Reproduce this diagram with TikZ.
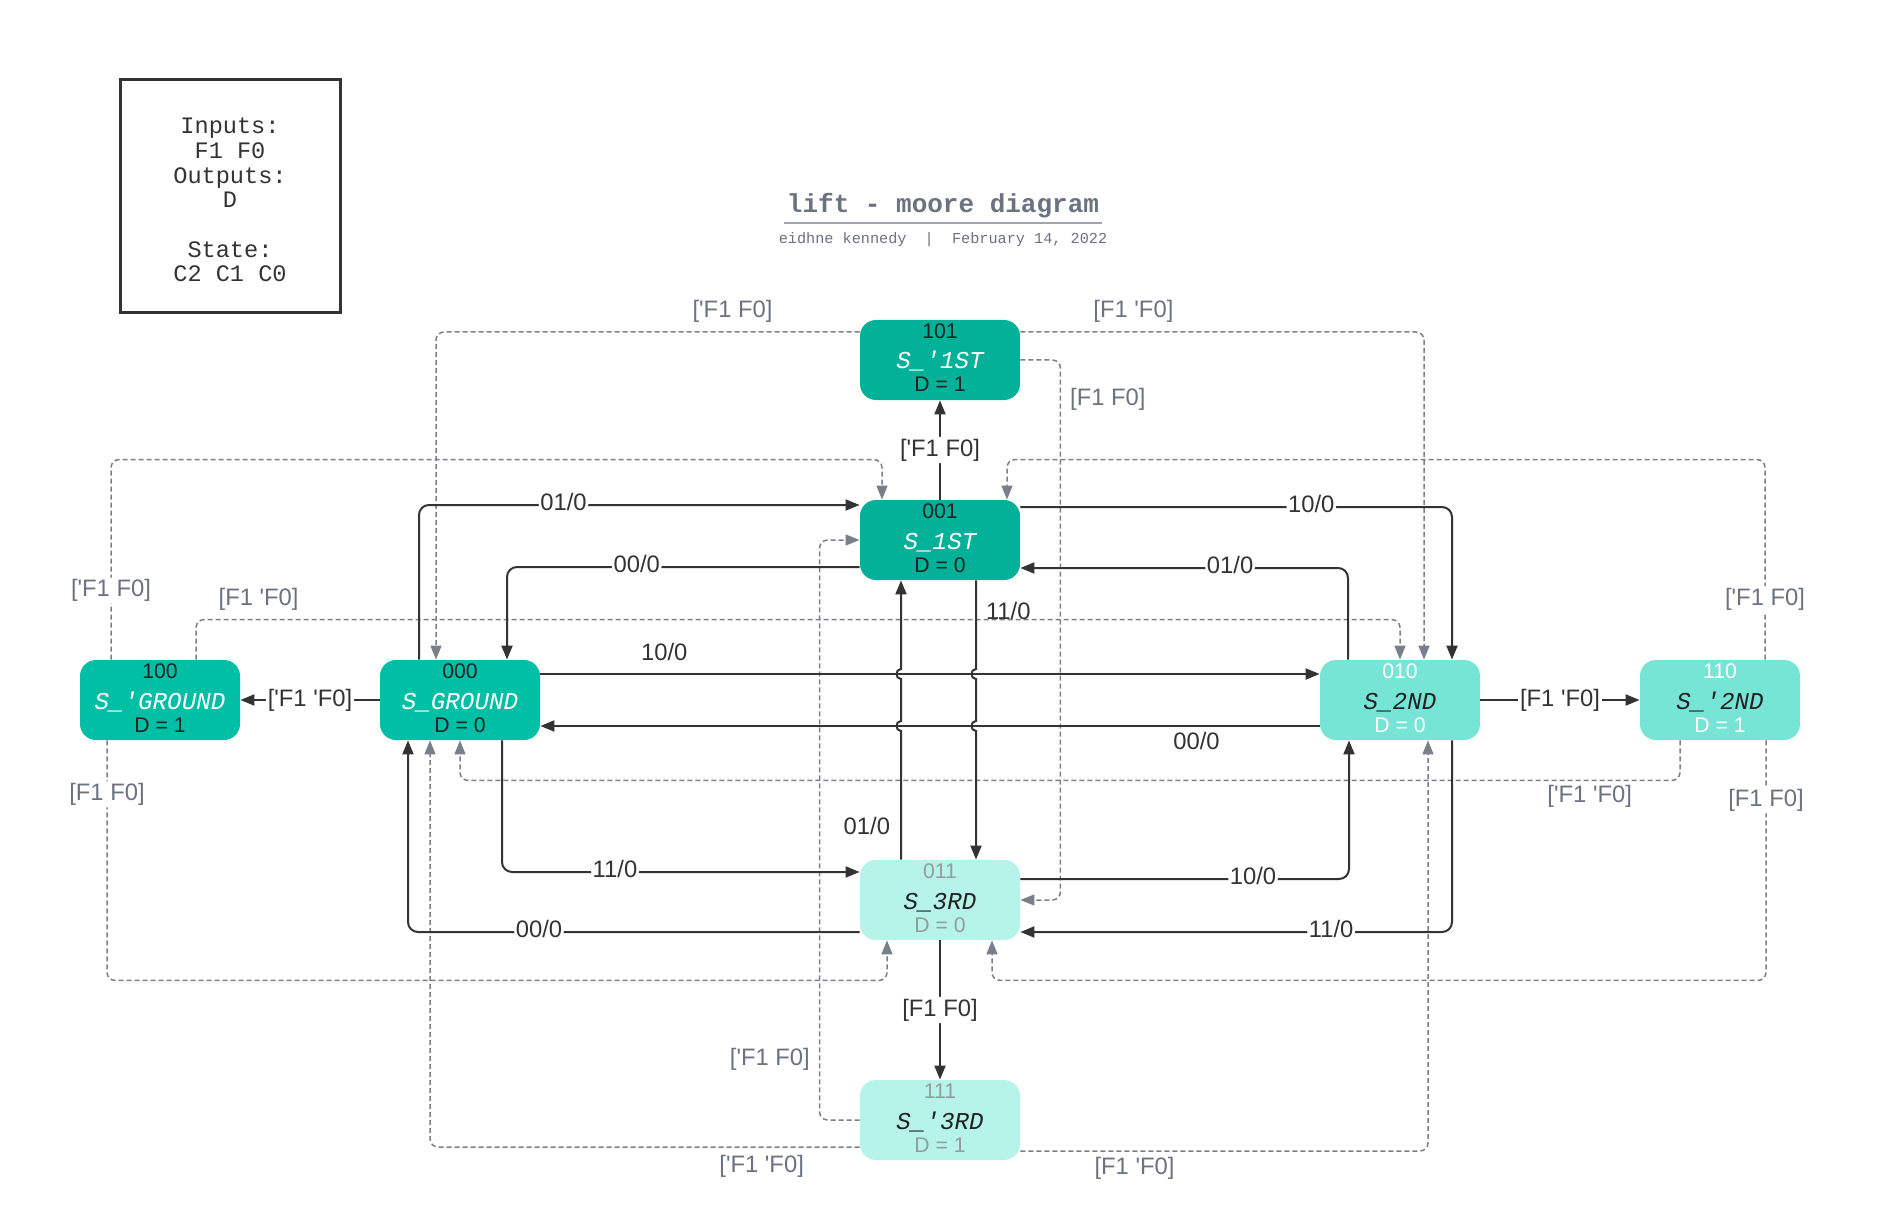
\documentclass[tikz,border=0pt]{standalone}
\usepackage{fontspec}
\setmainfont{Liberation Sans}
\newfontfamily\monofont{Liberation Mono}
\usetikzlibrary{arrows.meta,calc}

\definecolor{ink}{HTML}{222222}
\definecolor{linec}{HTML}{333333}
\definecolor{dashc}{RGB}{122,128,138}
\definecolor{greytxt}{RGB}{107,114,128}
\definecolor{rulec}{RGB}{160,166,176}
\definecolor{paletxt}{RGB}{150,156,156}
\definecolor{tealA}{RGB}{2,177,152}
\definecolor{tealB}{RGB}{0,191,165}
\definecolor{tealC}{RGB}{118,229,214}
\definecolor{tealD}{RGB}{182,244,234}

\newcommand\ap{\textquotesingle}
% state box: name, x, y, colour, code, title, output
\newcommand\statebox[7]{%
  \node[state, fill=#4] (#1) at (#2,#3) {};
  \node[#4 code] (#1c) at ($(#1)+(0,-22)$) {#5};
  \node[#4 name] (#1n) at ($(#1)+(0,9)$) {#6};
  \node[#4 code] (#1d) at ($(#1)+(0,32)$) {D = #7};
}

\tikzset{
  state/.style={rectangle, rounded corners=8pt, minimum width=80pt,
    minimum height=40pt, inner sep=0pt},
  codetxt/.style={anchor=base, inner sep=0pt, font=\fontsize{10.6}{12}\selectfont},
  nametxt/.style={anchor=base, inner sep=0pt,
    font=\monofont\itshape\fontsize{12.1}{14}\selectfont},
  tealA code/.style={codetxt, text=ink},
  tealA name/.style={nametxt, text=white},
  tealB code/.style={codetxt, text=ink},
  tealB name/.style={nametxt, text=white},
  tealC code/.style={codetxt, text=white},
  tealC name/.style={nametxt, text=ink},
  tealD code/.style={codetxt, text=paletxt},
  tealD name/.style={nametxt, text=ink},
  arrowtip/.style={-{Triangle[length=7pt,width=5.5pt]}},
  trans/.style={draw=linec, line width=1pt, rounded corners=5pt, arrowtip},
  ghost/.style={draw=dashc, line width=0.75pt, dash pattern=on 2.5pt off 1.5pt,
    rounded corners=4pt, arrowtip},
  lbl/.style={font=\fontsize{11.9}{13}\selectfont, text=linec, inner sep=1pt},
  onl/.style={lbl, fill=white, yshift=1.5pt},
  glbl/.style={lbl, text=greytxt},
  keybox/.style={draw=linec, line width=1.5pt, minimum width=110pt,
    minimum height=116.5pt},
  keytxt/.style={align=center, text=linec, inner sep=0pt,
    font=\monofont\fontsize{11.8}{12.35}\selectfont},
  ttl/.style={anchor=base, inner sep=0pt, text=greytxt,
    font=\monofont\bfseries\fontsize{13}{15}\selectfont},
  subttl/.style={anchor=base, inner sep=0pt, text=greytxt,
    font=\monofont\fontsize{7.6}{9}\selectfont},
}

\begin{document}
\begin{tikzpicture}[x=0.5pt, y=-0.5pt]
\fill[white] (0,0) rectangle (1880,1225);

\node[keybox] (key) at (230,196.5) {};
\node[keytxt] (keytext) at ($(key)+(0,3.5)$) {Inputs:\\F1 F0\\Outputs:\\D\\[12.35pt]State:\\C2 C1 C0};
\node[ttl] (title) at (943,213) {lift - moore diagram};
\draw[rulec, line width=1pt] ($(title.base west)+(-3,10)$) -- ($(title.base east)+(3,10)$);
\node[subttl] (byline) at (943,244) {eidhne kennedy~~|~~February 14, 2022};

% states
\statebox{s1p}{940}{360}{tealA}{101}{S\_\ap 1ST}{1}
\statebox{s1}{940}{540}{tealA}{001}{S\_1ST}{0}
\statebox{sg}{460}{700}{tealB}{000}{S\_GROUND}{0}
\statebox{sgp}{160}{700}{tealB}{100}{S\_\ap GROUND}{1}
\statebox{s2}{1400}{700}{tealC}{010}{S\_2ND}{0}
\statebox{s2p}{1720}{700}{tealC}{110}{S\_\ap 2ND}{1}
\statebox{s3}{940}{900}{tealD}{011}{S\_3RD}{0}
\statebox{s3p}{940}{1120}{tealD}{111}{S\_\ap 3RD}{1}

% dashed transitions
\draw[ghost] ($(s1p.west)+(0,-28)$) -| node[glbl, pos=0.15, yshift=10.3pt]{[\ap F1 F0]} ($(sg.north)+(-24,0)$);
\draw[ghost] ($(s1p.east)+(0,-28)$) -| node[glbl, pos=0.14, yshift=10.3pt]{[F1 \ap F0]} ($(s2.north)+(24,0)$);
\draw[ghost] (s1p.east) -- ++(40,0) |- node[glbl, pos=0.036, anchor=west, xshift=3.5pt]{[F1 F0]} (s3.east);
\draw[ghost] ($(sgp.north)+(-49,0)$) |- node[glbl, fill=white, pos=0.1725]{[\ap F1 F0]} ($(s1.north)+(-58,-40)$) -- ($(s1.north)+(-58,0)$);
\draw[ghost] ($(sgp.north)+(36,0)$) |- node[glbl, pos=0.526, yshift=10.3pt]{[F1 \ap F0]} ($(s2.north)+(0,-40)$) -- (s2.north);
\draw[ghost] ($(sgp.south)+(-53,0)$) |- node[glbl, fill=white, pos=0.1125]{[F1 F0]} ($(s3.south)+(-53,40)$) -- ($(s3.south)+(-53,0)$);
\draw[ghost] ($(s2p.north)+(45,0)$) |- node[glbl, fill=white, pos=0.151]{[\ap F1 F0]} ($(s1.north)+(67,-40)$) -- ($(s1.north)+(67,0)$);
\draw[ghost] ($(s2p.south)+(-40,0)$) |- node[glbl, pos=0.537, yshift=-8pt]{[\ap F1 \ap F0]} ($(sg.south)+(0,40)$) -- (sg.south);
\draw[ghost] ($(s2p.south)+(46,0)$) |- node[glbl, fill=white, pos=0.125]{[F1 F0]} ($(s3.south)+(52,40)$) -- ($(s3.south)+(52,0)$);
\draw[ghost] (s3p.west) -- ++(-40,0) |- node[glbl, pos=0.0526, anchor=east, xshift=-3.5pt]{[\ap F1 F0]} (s1.west);
\draw[ghost] ($(s3p.west)+(0,27)$) -| node[glbl, pos=0.114, yshift=-9.5pt]{[\ap F1 \ap F0]} ($(sg.south)+(-30,0)$);
\draw[ghost] ($(s3p.east)+(0,31)$) -| node[glbl, pos=0.14, yshift=-8.5pt]{[F1 \ap F0]} ($(s2.south)+(28,0)$);

% solid transitions
\draw[trans] (s1.north) -- node[lbl, fill=white]{[\ap F1 F0]} (s1p.south);
\draw[trans] ($(sg.north)+(-41,0)$) |- node[onl, pos=0.664]{01/0} ($(s1.west)+(0,-35)$);
\draw[trans] ($(s1.west)+(0,27)$) -| node[onl, pos=0.316]{00/0} ($(sg.north)+(47,0)$);
\draw[trans] ($(s1.east)+(0,-33)$) -| node[onl, pos=0.337]{10/0} ($(s2.north)+(52,0)$);
\draw[trans] ($(s2.north)+(-52,0)$) |- node[onl, pos=0.68]{01/0} ($(s1.east)+(0,28)$);
\draw[trans] ($(sg.east)+(0,-26)$) -- node[lbl, pos=0.159, yshift=11pt]{10/0} ($(s2.west)+(0,-26)$);
\draw[trans] ($(s2.west)+(0,26)$) -- node[lbl, pos=0.158, yshift=-7.5pt]{00/0} ($(sg.east)+(0,26)$);
\draw[trans] (sg.west) -- node[lbl, fill=white]{[\ap F1 \ap F0]} (sgp.east);
\draw[trans] (s2.east) -- node[lbl, fill=white]{[F1 \ap F0]} (s2p.west);

% verticals hop over the two long horizontals
\coordinate (dnx) at ($(s1.south)+(36,0)$);
\coordinate (upx) at ($(s3.north)+(-39,0)$);
\coordinate (hopA) at ($(sg.east)+(0,-26)$);
\coordinate (hopB) at ($(sg.east)+(0,26)$);
\draw[trans, sharp corners] (dnx) -- node[lbl, pos=0.35, anchor=west, xshift=3.5pt]{11/0} ($(dnx |- hopA)+(0,-5)$)
  .. controls +(-6,0) and +(-6,0) .. ($(dnx |- hopA)+(0,5)$)
  -- ($(dnx |- hopB)+(0,-5)$)
  .. controls +(-6,0) and +(-6,0) .. ($(dnx |- hopB)+(0,5)$)
  -- (dnx |- s3.north);
\draw[trans, sharp corners] (upx) -- node[lbl, pos=0.264, anchor=east, xshift=-4pt]{01/0} ($(upx |- hopB)+(0,5)$)
  .. controls +(-6,0) and +(-6,0) .. ($(upx |- hopB)+(0,-5)$)
  -- ($(upx |- hopA)+(0,5)$)
  .. controls +(-6,0) and +(-6,0) .. ($(upx |- hopA)+(0,-5)$)
  -- (upx |- s1.south);

\draw[trans] ($(sg.south)+(42,0)$) |- node[onl, pos=0.658]{11/0} ($(s3.west)+(0,-28)$);
\draw[trans] ($(s3.west)+(0,32)$) -| node[onl, pos=0.355]{00/0} ($(sg.south)+(-52,0)$);
\draw[trans] ($(s3.east)+(0,-21)$) -| node[onl, pos=0.354]{10/0} ($(s2.south)+(-51,0)$);
\draw[trans] ($(s2.south)+(52,0)$) |- node[onl, pos=0.64]{11/0} ($(s3.east)+(0,32)$);
\draw[trans] (s3.south) -- node[lbl, fill=white]{[F1 F0]} (s3p.north);
\end{tikzpicture}
\end{document}
